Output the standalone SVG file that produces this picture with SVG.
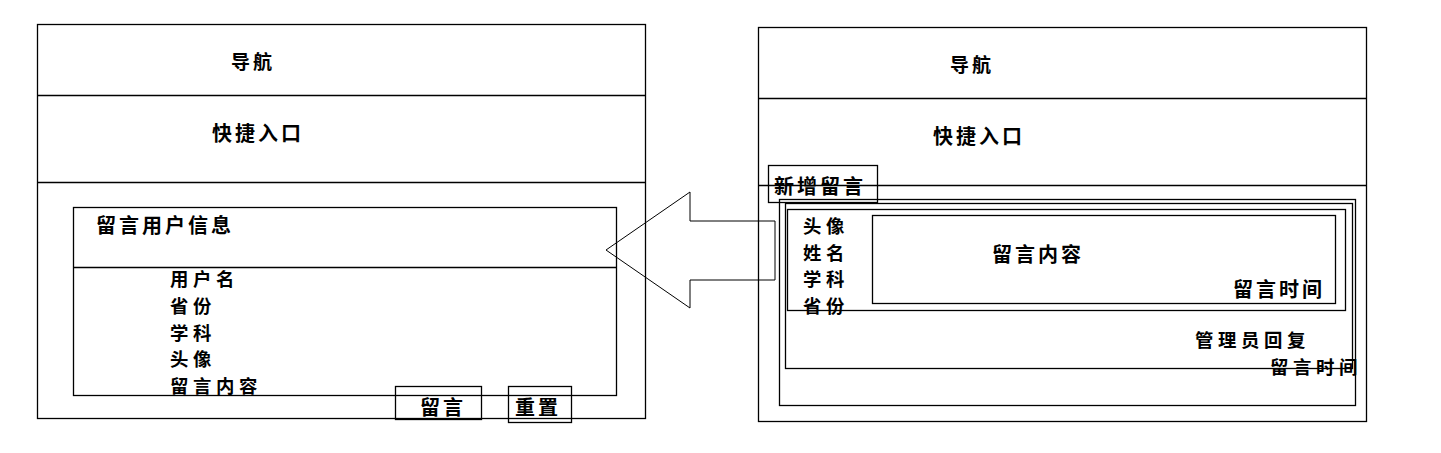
<svg xmlns="http://www.w3.org/2000/svg" width="1441" height="453" viewBox="0 0 1441 453">
<style>
.b{fill:none;stroke:#000;stroke-width:1.3}
.t{font-family:"Noto Sans CJK SC","Noto Sans",sans-serif;font-size:20px;font-weight:bold;letter-spacing:3px;fill:#000}
.s{font-size:19px}
.l{font-size:18.4px;letter-spacing:4.6px}
</style>
<rect width="1441" height="453" fill="#fff"/>
<g id="left-page">
<rect class="b" x="37.5" y="24.5" width="608" height="394"/>
<line class="b" x1="37.5" y1="95.5" x2="645.5" y2="95.5"/>
<line class="b" x1="37.5" y1="182.5" x2="645.5" y2="182.5"/>
<text class="t s" x="231" y="69">导航</text>
<text class="t" x="212" y="141">快捷入口</text>
</g>
<g id="user-info">
<rect class="b" x="73.5" y="207.5" width="543" height="188"/>
<line class="b" x1="73.5" y1="267.5" x2="616.5" y2="267.5"/>
<text class="t" x="96" y="233">留言用户信息</text>
<text class="t l" x="170" y="286">用户名</text>
<text class="t l" x="170" y="312.7">省份</text>
<text class="t l" x="170" y="339.5">学科</text>
<text class="t l" x="170" y="366.2">头像</text>
<text class="t l" x="170" y="393">留言内容</text>
</g>
<g id="btn-submit">
<rect class="b" x="395.5" y="386.5" width="86" height="33"/>
<text class="t" x="420" y="415">留言</text>
</g>
<g id="btn-reset">
<rect class="b" x="508.5" y="386.5" width="63" height="36"/>
<text class="t" x="515" y="415">重置</text>
</g>
<g id="connectors">
<polygon fill="none" stroke="#000" stroke-width="1" points="606,250 690,192 690,221 775,221 775,280 690,280 690,308"/>
</g>
<g id="right-page">
<rect class="b" x="758.5" y="27.5" width="608" height="394"/>
<line class="b" x1="758.5" y1="98.5" x2="1366.5" y2="98.5"/>
<line class="b" x1="758.5" y1="185.5" x2="1366.5" y2="185.5"/>
<text class="t s" x="950" y="72">导航</text>
<text class="t" x="933" y="144">快捷入口</text>
</g>
<g id="message-list">
<rect class="b" x="779.5" y="199.5" width="576" height="206"/>
<rect class="b" x="785.5" y="203.5" width="567" height="165"/>
<rect class="b" x="787.5" y="209.5" width="558" height="101"/>
<text class="t l" x="803" y="233">头像</text>
<text class="t l" x="803" y="259.7">姓名</text>
<text class="t l" x="803" y="286.3">学科</text>
<text class="t l" x="803" y="313">省份</text>
<text class="t l" x="1195" y="347">管理员回复</text>
<text class="t l" x="1270" y="374">留言时间</text>
</g>
<g id="message-content">
<rect class="b" x="872.5" y="215.5" width="463" height="88"/>
<text class="t" x="992" y="262">留言内容</text>
<text class="t" x="1233" y="297">留言时间</text>
</g>
<g id="btn-new">
<rect class="b" x="768.5" y="165.5" width="109" height="37"/>
<text class="t" x="774" y="194">新增留言</text>
</g>
</svg>
